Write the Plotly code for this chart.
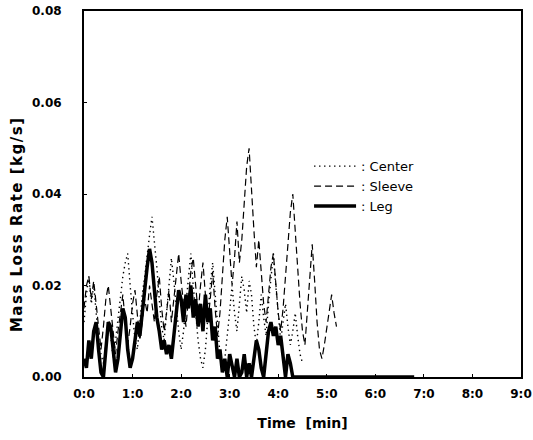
import numpy as np
import plotly.graph_objects as go

# time grid in minutes (3 s sampling)
center_t = np.round(np.arange(0, 4.51, 0.05), 2)
center = [0.012, 0.018, 0.022, 0.016, 0.020, 0.014, 0.008, 0.005, 0.003, 0.007,
          0.012, 0.009, 0.004, 0.008, 0.013, 0.018, 0.022, 0.025, 0.027, 0.020,
          0.014, 0.008, 0.006, 0.012, 0.018, 0.022, 0.027, 0.031, 0.035, 0.030,
          0.024, 0.017, 0.011, 0.008, 0.014, 0.020, 0.026, 0.021, 0.015, 0.010,
          0.006, 0.010, 0.016, 0.022, 0.027, 0.020, 0.013, 0.008, 0.004, 0.002,
          0.006, 0.014, 0.020, 0.025, 0.018, 0.011, 0.005, 0.002, 0.004, 0.009,
          0.015, 0.020, 0.014, 0.010, 0.016, 0.022, 0.019, 0.014, 0.021, 0.018,
          0.011, 0.007, 0.012, 0.018, 0.013, 0.009, 0.016, 0.022, 0.027, 0.020,
          0.013, 0.008, 0.012, 0.016, 0.011, 0.007, 0.010, 0.014, 0.009, 0.005,
          0.003]

sleeve_t = np.round(np.arange(0, 5.21, 0.05), 2)
sleeve = [0.015, 0.020, 0.022, 0.017, 0.021, 0.016, 0.010, 0.006, 0.011, 0.017,
          0.020, 0.015, 0.009, 0.005, 0.010, 0.014, 0.018, 0.012, 0.007, 0.011,
          0.016, 0.019, 0.013, 0.008, 0.012, 0.017, 0.014, 0.020, 0.016, 0.012,
          0.018, 0.022, 0.015, 0.010, 0.014, 0.019, 0.012, 0.017, 0.022, 0.027,
          0.021, 0.016, 0.011, 0.017, 0.023, 0.026, 0.019, 0.014, 0.020, 0.025,
          0.018, 0.012, 0.017, 0.023, 0.015, 0.009, 0.014, 0.022, 0.030, 0.035,
          0.028, 0.020, 0.026, 0.034, 0.025, 0.030, 0.038, 0.046, 0.050, 0.040,
          0.032, 0.024, 0.030, 0.023, 0.016, 0.012, 0.019, 0.024, 0.027, 0.020,
          0.014, 0.010, 0.015, 0.022, 0.030, 0.036, 0.040, 0.033, 0.024, 0.016,
          0.010, 0.007, 0.014, 0.022, 0.029, 0.021, 0.012, 0.006, 0.004, 0.007,
          0.011, 0.015, 0.018, 0.014, 0.011]

leg_t = list(np.round(np.arange(0, 4.31, 0.05), 2)) + [6.8]
leg = [0.004, 0.002, 0.008, 0.004, 0.010, 0.012, 0.006, 0.001, 0.000, 0.006,
       0.012, 0.011, 0.005, 0.001, 0.004, 0.010, 0.015, 0.013, 0.006, 0.002,
       0.004, 0.008, 0.012, 0.009, 0.015, 0.019, 0.024, 0.028, 0.025, 0.019,
       0.013, 0.010, 0.006, 0.008, 0.005, 0.007, 0.004, 0.009, 0.014, 0.019,
       0.017, 0.012, 0.018, 0.015, 0.020, 0.013, 0.017, 0.011, 0.016, 0.010,
       0.018, 0.012, 0.015, 0.008, 0.011, 0.004, 0.006, 0.001, 0.004, 0.000,
       0.005, 0.002, 0.000, 0.004, 0.000, 0.001, 0.005, 0.000, 0.003, 0.000,
       0.004, 0.008, 0.006, 0.002, 0.000, 0.005, 0.010, 0.012, 0.009, 0.011,
       0.007, 0.009, 0.004, 0.000, 0.005, 0.003, 0.000, 0.000]

x_ticks = list(range(10))
x_ticktext = ['%d:0' % m for m in x_ticks]

font = 'DejaVu Sans'

fig = go.Figure()
fig.add_trace(go.Scatter(x=center_t, y=center, mode='lines', name=': Center',
                         line=dict(color='black', width=1.4, dash='1.4px,3.6px')))
fig.add_trace(go.Scatter(x=sleeve_t, y=sleeve, mode='lines', name=': Sleeve',
                         line=dict(color='black', width=1.2, dash='7px,4px')))
fig.add_trace(go.Scatter(x=leg_t, y=leg, mode='lines', name=': Leg',
                         line=dict(color='black', width=3.5)))

fig.update_layout(
    width=533, height=440,
    margin=dict(l=84, r=12, t=11, b=63),
    plot_bgcolor='white', paper_bgcolor='white',
    font=dict(family=font, size=13, color='black'),
    showlegend=True,
    legend=dict(x=0.515, y=0.617, xanchor='left', yanchor='top',
                bgcolor='rgba(0,0,0,0)', itemwidth=42,
                font=dict(size=13, family=font)),
)
fig.update_xaxes(range=[0, 9], tickvals=x_ticks, ticktext=x_ticktext,
                 showline=True, linecolor='black', linewidth=2, mirror=True,
                 ticks='inside', ticklen=3, tickcolor='black', showgrid=False,
                 zeroline=False, ticklabelstandoff=5, automargin=False,
                 ticklabeloverflow='allow',
                 tickfont=dict(family=font, size=12, weight='bold'),
                 title=dict(text='Time  [min]', standoff=18,
                            font=dict(family=font, size=14, weight='bold')))
fig.update_yaxes(range=[0, 0.08], dtick=0.02, tickformat='.2f',
                 showline=True, linecolor='black', linewidth=2, mirror=True,
                 ticks='inside', ticklen=3, tickcolor='black', showgrid=False,
                 zeroline=False, ticklabelstandoff=18, automargin=False,
                 ticklabeloverflow='allow',
                 tickfont=dict(family=font, size=12, weight='bold'),
                 title=dict(text='<span style="letter-spacing:1.5px">Mass Loss Rate [kg/s]'
                                 + '\u00a0' * 9 + '</span>',
                            standoff=6,
                            font=dict(family=font, size=15, weight='bold')))

# drop the default 8 px body margin so the figure fills the window
fig.write_html('out.html', config={'displayModeBar': False},
               post_script="document.body.style.margin='0px';")
